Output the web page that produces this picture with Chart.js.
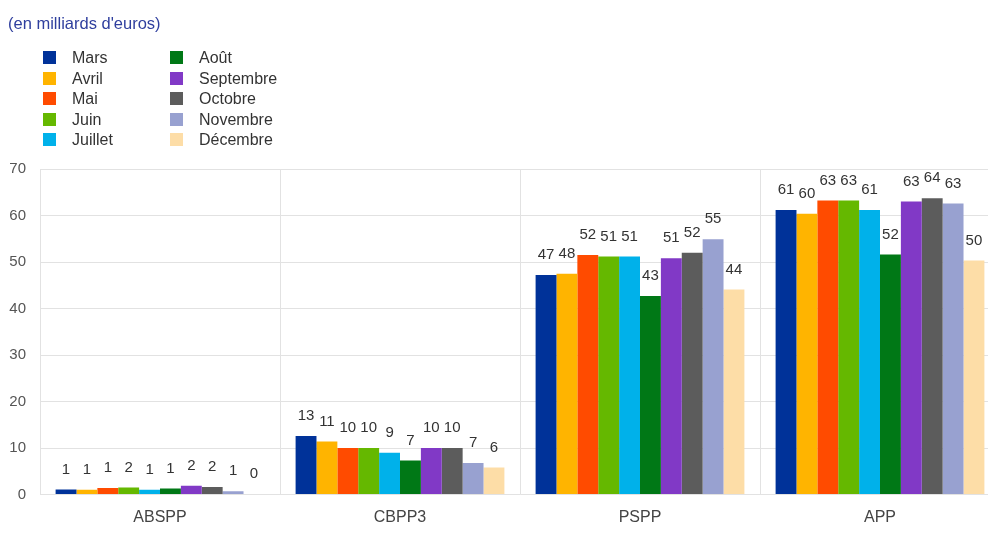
<!DOCTYPE html>
<html>
<head>
<meta charset="utf-8">
<script src="https://cdn.jsdelivr.net/npm/chart.js@4"></script>
<style>
  body { margin: 0; overflow: hidden; background: #fff; font-family: "Liberation Sans", Arial, sans-serif; }
  #wrap { position: relative; width: 1000px; height: 538px; }
  #chart { position: absolute; left: 0; top: 0; }
  #title { position: absolute; left: 8px; top: 14px; font-size: 16.5px; color: #2f3f9e; }
  .item { position: absolute; font-size: 16px; color: #333; line-height: 15px; }
  .item span { position: absolute; left: 0; top: 1px; width: 13px; height: 13px; }
  .item b { font-weight: normal; position: absolute; white-space: nowrap; }
</style>
</head>
<body>
<div id="wrap">
  <canvas id="chart" width="1000" height="538"></canvas>
  <div id="title">(en milliards d'euros)</div>
  <div id="legend"></div>
</div>
<script>
const categories = ['ABSPP', 'CBPP3', 'PSPP', 'APP'];
const months = ['Mars', 'Avril', 'Mai', 'Juin', 'Juillet', 'Août', 'Septembre', 'Octobre', 'Novembre', 'Décembre'];

// valeurs par mois, dans l'ordre des catégories
const mars      = [1.1, 12.6, 47.2, 61.2];
const avril     = [1.0, 11.4, 47.5, 60.4];
const mai       = [1.4, 10.0, 51.5, 63.2];
const juin      = [1.5, 10.0, 51.2, 63.2];
const juillet   = [1.0,  9.0, 51.2, 61.2];
const aout      = [1.3,  7.3, 42.7, 51.6];
const septembre = [1.9, 10.0, 50.8, 63.0];
const octobre   = [1.6, 10.0, 52.0, 63.7];
const novembre  = [0.7,  6.8, 54.9, 62.6];
const decembre  = [0.1,  5.8, 44.1, 50.3];

const yTicks = [0, 10, 20, 30, 40, 50, 60, 70];

const series = [mars, avril, mai, juin, juillet, aout, septembre, octobre, novembre, decembre];
const colors = ['#003299', '#ffb400', '#ff4b00', '#65b800', '#00b1ea', '#007816', '#8139c6', '#5c5c5c', '#98a1d0', '#fddda7'];

const font = '"Liberation Sans", Arial, sans-serif';

// étiquettes de valeur au-dessus des barres
const valueLabels = {
  id: 'valueLabels',
  afterDatasetsDraw(chart) {
    const ctx = chart.ctx;
    ctx.save();
    ctx.font = '15px ' + font;
    ctx.fillStyle = '#333';
    ctx.textAlign = 'center';
    ctx.textBaseline = 'middle';
    chart.data.datasets.forEach((ds, i) => {
      chart.getDatasetMeta(i).data.forEach((bar, j) => {
        ctx.fillText(String(Math.round(ds.data[j])), bar.x, bar.y - 20);
      });
    });
    ctx.restore();
  }
};

const chart = new Chart(document.getElementById('chart'), {
  type: 'bar',
  data: {
    labels: categories,
    datasets: months.map((m, i) => ({
      label: m,
      data: series[i],
      backgroundColor: colors[i],
      categoryPercentage: 0.87,
      barPercentage: 1.0
    }))
  },
  options: {
    responsive: false,
    animation: false,
    layout: { padding: { top: 169, left: 0, right: 0, bottom: 0 } },
    plugins: { legend: { display: false }, tooltip: { enabled: false } },
    scales: {
      x: {
        grid: { color: '#e2e2e2', drawTicks: false },
        border: { color: '#e2e2e2' },
        ticks: { color: '#444', font: { family: font, size: 16 }, padding: 13 },
        afterFit: s => { s.height = 43.5; }
      },
      y: {
        min: 0,
        max: 70,
        afterBuildTicks: s => { s.ticks = yTicks.map(v => ({ value: v })); },
        grid: { color: '#e2e2e2', drawTicks: false },
        border: { color: '#e2e2e2' },
        ticks: { color: '#555', font: { family: font, size: 15 }, padding: 14 },
        afterFit: s => { s.width = 40; }
      }
    }
  },
  plugins: [valueLabels]
});

// légende en deux colonnes
const legend = document.getElementById('legend');
months.forEach((m, i) => {
  const col = Math.floor(i / 5), row = i % 5;
  const d = document.createElement('div');
  d.className = 'item';
  d.style.left = (43 + col * 127) + 'px';
  d.style.top = (50 + row * 20.5) + 'px';
  d.innerHTML = '<span style="background:' + colors[i] + '"></span><b style="left:29px">' + m + '</b>';
  legend.appendChild(d);
});
</script>
</body>
</html>
